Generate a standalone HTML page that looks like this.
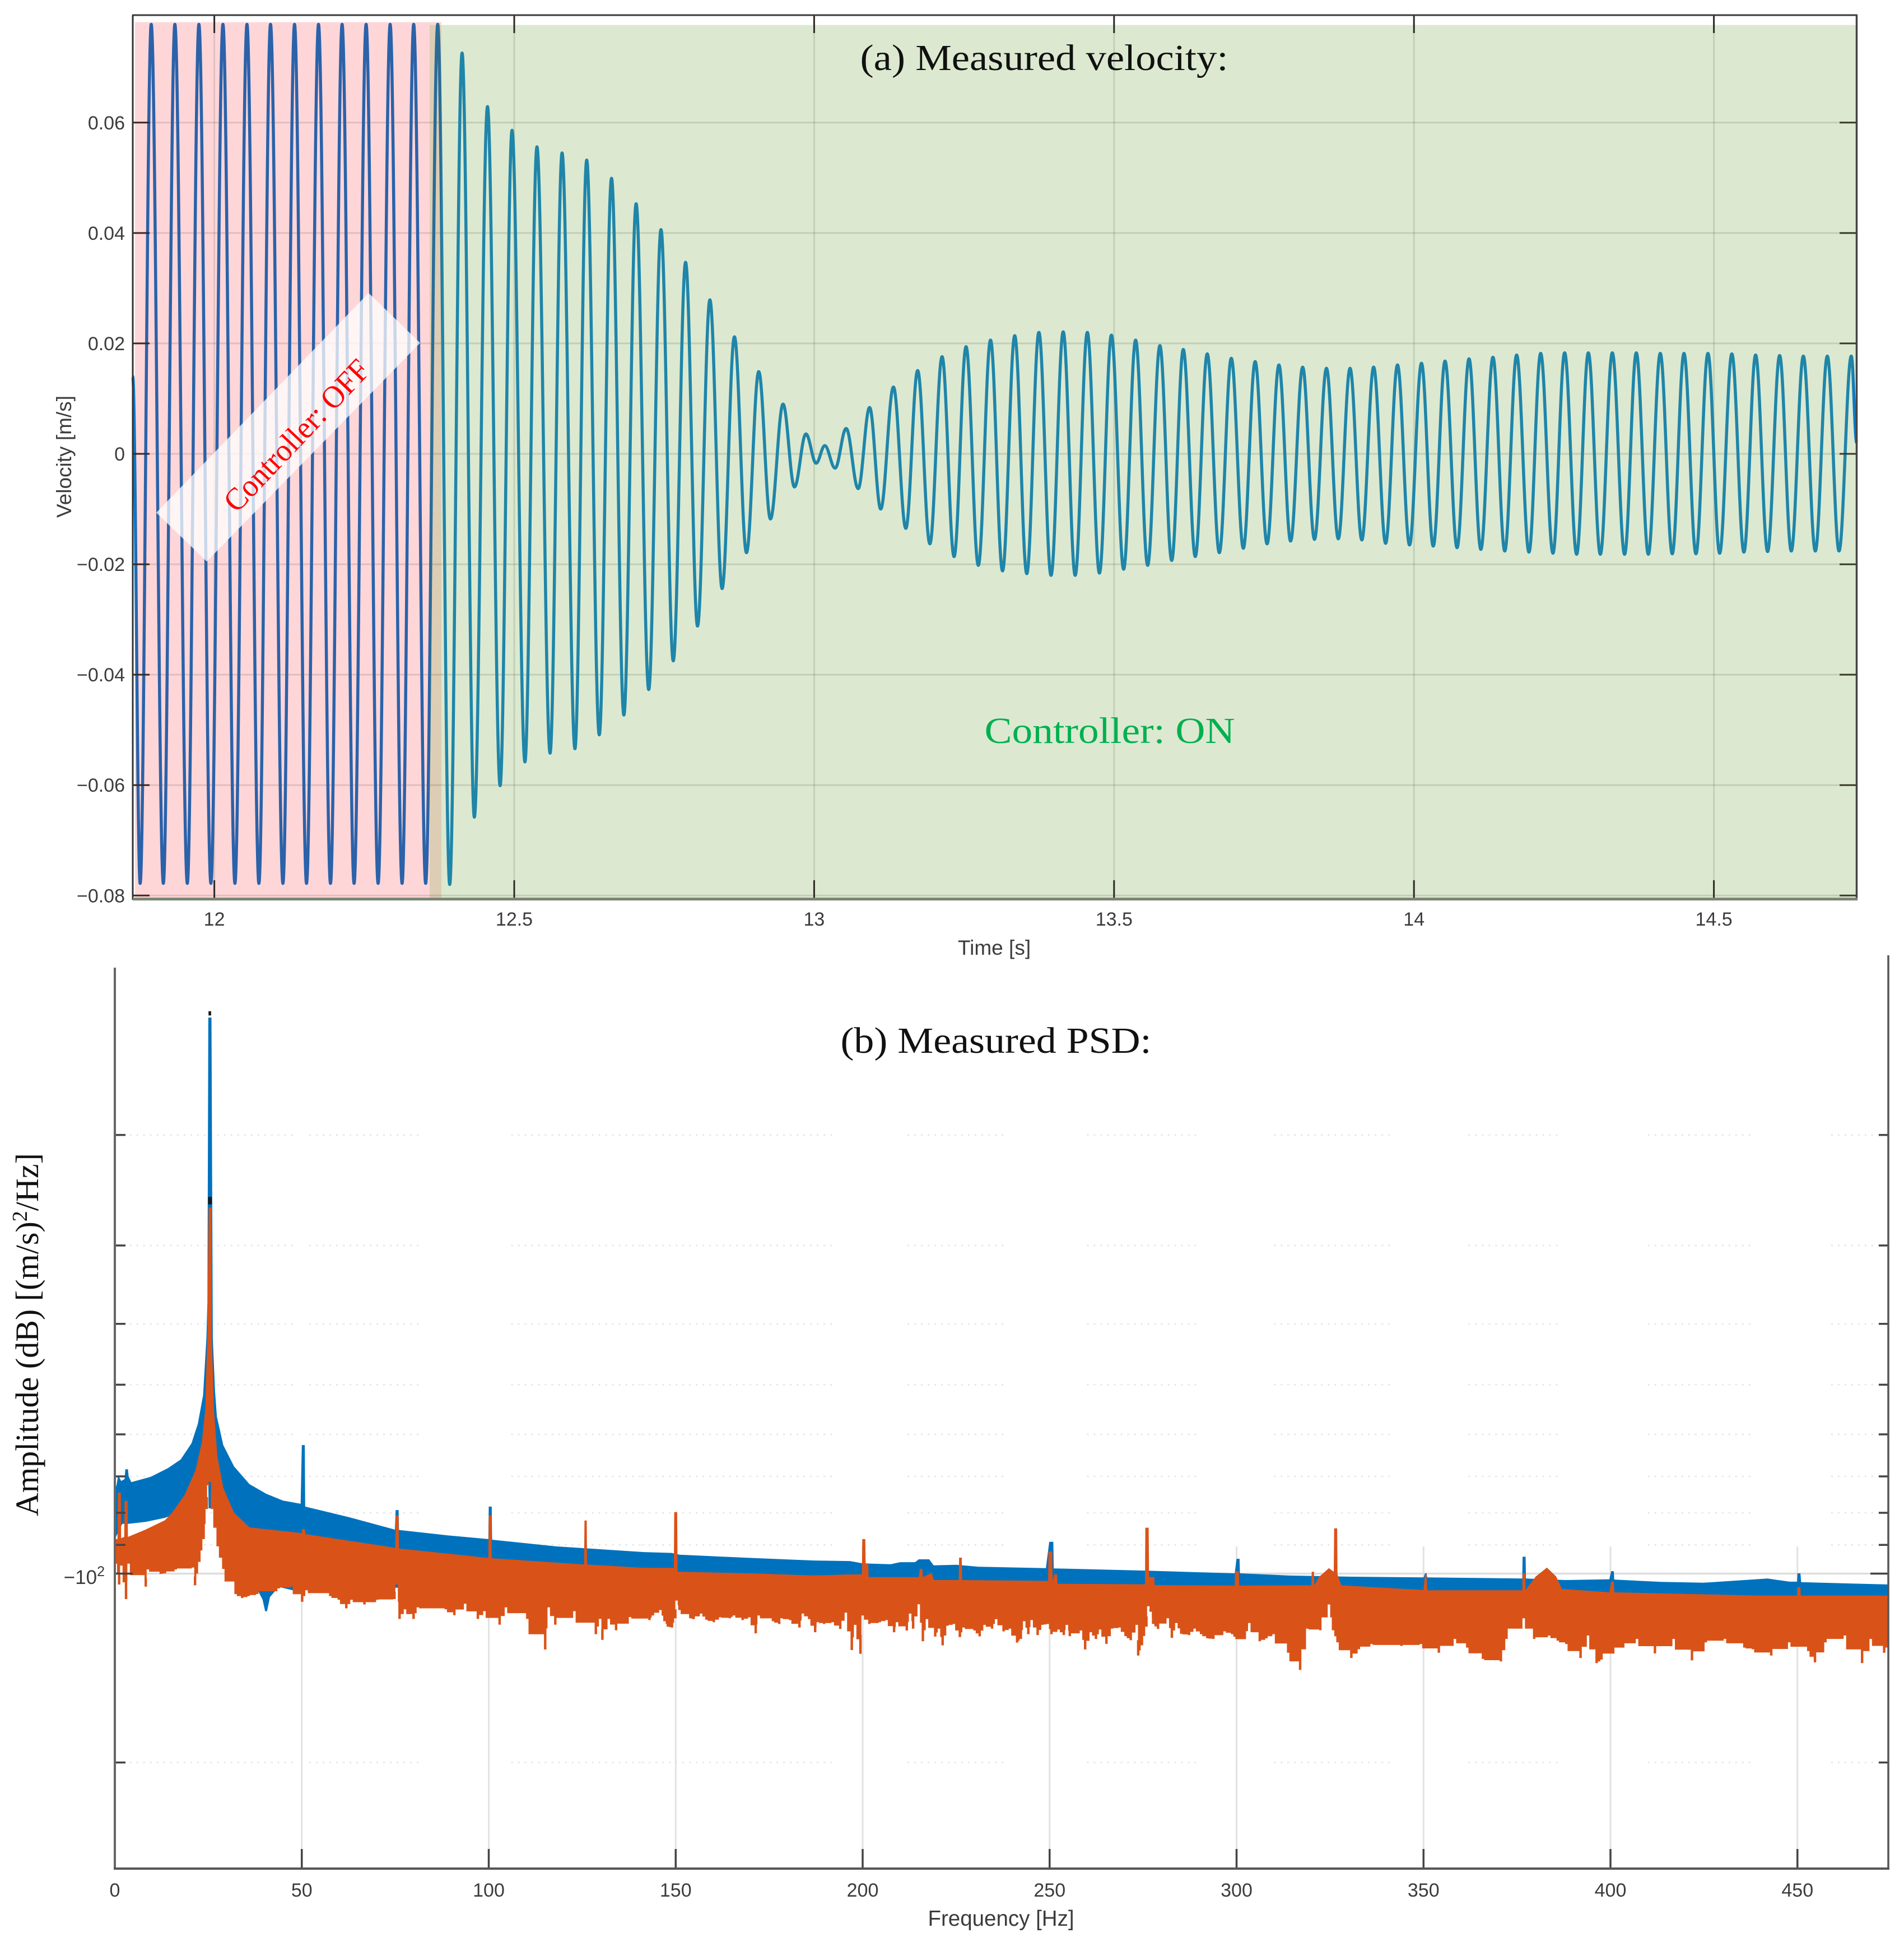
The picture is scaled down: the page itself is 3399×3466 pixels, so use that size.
<!DOCTYPE html>
<html lang="en">
<head>
<meta charset="utf-8">
<title>Measured velocity and PSD</title>
<style>
html,body{margin:0;padding:0;background:#fff;}
svg{display:block;}
.tick{font-family:"Liberation Sans",Arial,sans-serif;fill:#3c3c3c;}
.serif{font-family:"Liberation Serif",serif;}
</style>
</head>
<body>
<svg id="fig" xmlns="http://www.w3.org/2000/svg" width="3399" height="3466" viewBox="0 0 3399 3466">
  <rect x="0" y="0" width="3399" height="3466" fill="#ffffff"/>
  <defs>
    <clipPath id="clip-start"><rect x="230" y="27" width="13" height="1578"/></clipPath>
    <clipPath id="clip-off"><rect x="243" y="27" width="524" height="1578"/></clipPath>
    <clipPath id="clip-band"><rect x="767" y="27" width="21" height="1578"/></clipPath>
    <clipPath id="clip-on"><rect x="788" y="27" width="2520" height="1578"/></clipPath>
    <clipPath id="clip-end"><rect x="3308" y="27" width="10" height="1578"/></clipPath>
    <clipPath id="clip-psd"><rect x="205" y="1700" width="3166" height="1635"/></clipPath>
  </defs>

  <!-- Panel (a) background regions -->
  <g>
    <rect x="241" y="39.5" width="547" height="1565" fill="#ffd6d8"/>
    <rect x="767" y="44.6" width="2546" height="1560" fill="#dce9d0"/>
    <rect x="767" y="44.6" width="21" height="1560" fill="#dccdb4"/>
  </g>
  <g id="a-grid"></g>
  <g id="a-line"></g>
  <polygon points="658,523 750,612 369,1002 279,915" fill="#ffffff" fill-opacity="0.75"/>
  <g id="a-ticks"></g>
  <g>
    <line x1="236" y1="27" x2="3316" y2="27" stroke="#3a3a3a" stroke-width="3"/>
    <line x1="237" y1="27" x2="237" y2="1606" stroke="#333333" stroke-width="3"/>
    <line x1="3314.5" y1="27" x2="3314.5" y2="1606" stroke="#444444" stroke-width="3.5"/>
    <line x1="237" y1="1604.6" x2="3316" y2="1604.6" stroke="#7b8472" stroke-width="5"/>
  </g>
  <text class="serif" x="1864" y="125" font-size="66" text-anchor="middle" textLength="657" lengthAdjust="spacingAndGlyphs" fill="#111111">(a) Measured velocity:</text>
  <text class="serif" x="1981" y="1326" font-size="66" text-anchor="middle" textLength="447" lengthAdjust="spacingAndGlyphs" fill="#00b050">Controller: ON</text>
  <text class="serif" x="0" y="0" font-size="56" text-anchor="middle" textLength="350" lengthAdjust="spacingAndGlyphs" fill="#ff0000" transform="translate(543,790) rotate(-46.5)">Controller: OFF</text>
  <text class="tick" x="1775" y="1704" font-size="37" text-anchor="middle">Time [s]</text>
  <text class="tick" x="0" y="0" font-size="37" text-anchor="middle" transform="translate(127,815) rotate(-90)">Velocity [m/s]</text>

  <!-- Panel (b) -->
  <g id="b-grid"></g>
  <g id="b-series" clip-path="url(#clip-psd)"></g>
  <g id="b-ticks"></g>
  <g>
    <line x1="205" y1="1727" x2="205" y2="3337" stroke="#666666" stroke-width="4"/>
    <line x1="3371" y1="1705" x2="3371" y2="3337" stroke="#555555" stroke-width="3.5"/>
    <line x1="203" y1="3335" x2="3373" y2="3335" stroke="#555555" stroke-width="4"/>
  </g>
  <text class="serif" x="1778" y="1879" font-size="66" text-anchor="middle" textLength="555" lengthAdjust="spacingAndGlyphs" fill="#111111">(b) Measured PSD:</text>
  <text class="tick" x="1787" y="3437" font-size="38.5" text-anchor="middle">Frequency [Hz]</text>
  <text class="serif" x="0" y="0" font-size="58" text-anchor="middle" fill="#111111" textLength="648" lengthAdjust="spacingAndGlyphs" transform="translate(68,2382) rotate(-90)">Amplitude (dB) [(m/s)<tspan dy="-20" font-size="38">2</tspan><tspan dy="20">/Hz]</tspan></text>
  <text class="tick" x="187" y="2827" font-size="35" text-anchor="end">−10<tspan dy="-14" font-size="25">2</tspan></text>
</svg>

<script>
// ---------- Panel (a): velocity ----------
const velocityXLim = [11.864, 14.7381];
const velocityXTicks = [12, 12.5, 13, 13.5, 14, 14.5];
const velocityXLabels = ['12', '12.5', '13', '13.5', '14', '14.5'];
const velocityYTicks = [-0.08, -0.06, -0.04, -0.02, 0, 0.02, 0.04, 0.06];
const velocityYLabels = ['−0.08', '−0.06', '−0.04', '−0.02', '0', '0.02', '0.04', '0.06'];
const velocityStartTime = 11.864;
const velocityStartValue = 0.014;
const velocityEndTime = 14.7381;
const velocityEndValue = 0.002;
const peakTimes = [11.8948,11.9343,11.9743,12.0144,12.0544,12.0937,12.1337,12.1737,12.2130,12.2531,12.2931,12.3324,12.3724,
  12.4131,12.4555,12.4964,12.5379,12.5798,12.6208,12.6622,12.7032,12.7447,12.7857,12.8262,12.8671,12.9076,12.9482,12.9863,13.0177,13.0534,13.0925,
  13.1322,13.1726,13.2133,13.2533,13.2941,13.3344,13.3747,13.4152,13.4555,13.4956,13.5360,13.5764,
  13.6154,13.6554,13.6955,13.7352,13.7748,13.8144,13.8541,13.8934,13.9328,13.9725,14.0125,14.0518,14.0918,
  14.1317,14.1712,14.2112,14.2512,14.2907,14.3307,14.3707,14.4106,14.4501,14.4901,14.5300,14.5696,14.6096,14.6491,14.6891,14.7291];
const peakValues = [.0778,.0778,.0778,.0778,.0778,.0778,.0778,.0778,.0778,.0778,.0778,.0778,.0778,
  .0726,.0629,.0586,.0556,.0545,.0532,.0499,.0453,.0406,.0347,.0279,.0212,.0149,.0090,.0036,.0015,.0046,.0084,
  .0121,.0151,.0176,.0194,.0206,.0214,.0220,.0221,.0220,.0215,.0206,.0196,
  .0189,.0181,.0173,.0167,.0161,.0157,.0155,.0155,.0157,.0161,.0164,.0168,.0172,
  .0175,.0179,.0182,.0183,.0183,.0183,.0183,.0182,.0182,.0182,.0181,.0179,.0178,.0177,.0177,.0177];
const troughTimes = [11.8764,11.9150,11.9550,11.9943,12.0344,12.0743,12.1144,12.1537,12.1937,12.2330,12.2731,12.3130,12.3524,12.3924,
  12.4335,12.4765,12.5178,12.5598,12.6012,12.6418,12.6828,12.7242,12.7651,12.8056,12.8466,12.8872,12.9272,12.9672,13.0034,13.0349,13.0734,13.1110,
  13.1529,13.1929,13.2333,13.2737,13.3141,13.3545,13.3949,13.4352,13.4756,13.5160,13.5560,13.5961,
  13.6354,13.6755,13.7155,13.7551,13.7944,13.8341,13.8738,13.9131,13.9527,13.9926,14.0321,14.0718,14.1115,
  14.1514,14.1917,14.2317,14.2712,14.3107,14.3511,14.3907,14.4306,14.4701,14.5096,14.5501,14.5896,14.6291,14.6691,14.7086];
const troughValues = [-.0778,-.0778,-.0778,-.0778,-.0778,-.0778,-.0778,-.0778,-.0778,-.0778,-.0778,-.0778,-.0778,-.0780,
  -.0658,-.0601,-.0558,-.0542,-.0534,-.0509,-.0473,-.0427,-.0375,-.0312,-.0244,-.0179,-.0118,-.0060,-.0017,-.0026,-.0063,-.0100,
  -.0135,-.0163,-.0186,-.0202,-.0212,-.0217,-.0220,-.0220,-.0216,-.0209,-.0202,-.0193,
  -.0186,-.0179,-.0171,-.0163,-.0158,-.0155,-.0154,-.0156,-.0162,-.0165,-.0167,-.0170,-.0173,
  -.0176,-.0178,-.0180,-.0182,-.0182,-.0182,-.0182,-.0181,-.0181,-.0180,-.0178,-.0177,-.0176,-.0176,-.0176];

// ---------- Panel (b): PSD (magnitude of the dB value) ----------
const psdXTicks = [0, 50, 100, 150, 200, 250, 300, 350, 400, 450];
const psdXLabels = ['0', '50', '100', '150', '200', '250', '300', '350', '400', '450'];
const psdMinorYTicks = [20, 30, 40, 50, 60, 70, 80, 90, 200];
const psdMajorYTicks = [100];
const psdDotSpanStarts = [4, 52, 106, 141, 212, 260, 310, 362, 410, 459];
const psdDotSpanEnds = [48, 82, 142, 192, 239, 290, 341, 386, 438, 474];
const blueUpperFreq = [0,0.4,0.9,1.7,2.6,2.8,3.5,3.7,4.4,9.6,14.2,17.6,20.5,22.2,23.6,24.5,24.76,25.0,25.85,26.2,26.8,27.3,29,31.9,36,40.5,45,49.7,50,50.8,50.9,62.3,74.9,75.1,75.9,76,89,99.9,100,100.8,100.9,118,141.6,149,151,170,187,196.6,200,207.5,210,214,215,217.8,219,225,231,249,249.9,251,251.1,275.5,290,299.5,300,300.8,300.9,314,328.7,350,350.4,350.8,351,376.4,376.5,377.3,377.4,388,399.7,400.2,400.9,401,413.5,424.9,442,447.9,449.9,450,450.8,451,475];
const blueUpperMag = [72.5,72.5,69.7,71.2,70.7,68.2,68.2,70,71.5,70.1,67.9,65.8,62,57.7,52,42.1,36.9,13.0,13.0,42.1,51.2,56.2,62.4,67.5,72,74.6,76.5,77.4,62.4,62.4,78.2,81.2,85.1,79.2,79.2,85.2,86.9,88.1,78.2,78.2,88.3,90.5,92.4,92.7,93.3,94.4,95.3,95.5,96.3,96.6,95.9,95.9,94.9,94.9,97,96.8,97.5,98,89,89,98.1,98.9,99.5,99.9,94.7,94.7,99.9,100.7,101.1,101.4,99.9,99.9,101.4,101.8,94,94,101.8,102.4,102.1,99.1,99.1,102.2,103.1,103.4,101.8,103,103,99.9,99.9,103.2,104.1];
const blueLowerFreq = [0,2,3.7,8.3,13.4,17.4,24.9,25.1,25.7,25.9,30,34.6,38.1,39.5,40.2,40.7,41.5,43.8,49.5,51.8,475];
const blueLowerMag = [88.1,83.3,83.3,82.7,81.5,79.9,65,78.7,78.7,65,90,105,106,110,114.8,114.8,109,105,107,105,111];
const orangeUpperFreq = [0,0.7,0.8,1.6,1.7,2.5,2.6,3.4,3.5,8.2,13.4,15.3,18.7,21.6,23.3,24.2,24.7,25.1,25.9,25.95,26.5,27.4,29,31.9,36,50,50.1,50.8,51,72.5,75,75.1,75.9,76,99.9,100,100.7,100.8,125.5,125.6,126.2,126.3,141.6,149.5,149.6,150.4,150.5,170,187,196.6,199.8,199.9,200.7,200.8,201.5,201.6,215,215.3,216,216.1,218.5,219,225.7,225.8,226.5,226.6,249.6,249.7,250.7,250.8,251.2,252,252.1,275.5,275.6,276.5,276.6,278,278.1,299.5,299.6,300.6,300.7,320,320.1,320.7,320.8,322,324.7,326,326.1,326.9,327,328,350,350.4,350.8,351,376.4,376.5,377.2,377.3,380,383,385.5,387,399.7,400.2,400.9,401,440,449.9,450,450.8,450.9,475];
const orangeUpperMag = [88.1,88.1,74.3,74.3,87.8,87.4,76.6,76.6,87.4,85.1,82.2,80,74.9,68.4,61.6,54.7,42.1,26.1,26.1,42.1,54.7,64.9,73,80,84.4,86.2,84.9,84.9,86.5,90.5,91,80.8,80.8,91.2,94.4,80.8,80.8,94.5,96.7,82.3,82.3,96.7,97.9,97.9,79.8,79.8,99.3,99.9,100.7,100.3,100.3,88.1,88.1,96.3,96.3,101.3,101.3,98.3,98.3,101.3,99.7,102.4,102.4,94.3,94.3,102.4,102.7,92.2,92.2,102.8,100.3,100.3,103.8,104,84.5,84.5,101.3,101.3,104.3,104.5,99.1,99.1,104.5,104.4,99.3,99.3,104.5,101.3,98,99.3,84.7,84.7,100.3,104.4,106.2,100.3,100.3,106.3,106.3,99.9,99.9,106.2,101.1,97.8,101.1,105.8,107.1,103,103,107.1,108.4,108.4,105.1,105.1,108.4,108.4];
const orangeLowerFreq = [0.25,1.16,1.74,3.0,3.69,8.27,8.84,12.28,13.43,16.3,20.9,21.46,22.6,23.75,24.6,25,25.4,26,27.5,29,32.3,34.07,35.8,38.08,43.8,47.25,50.1,51.26,57.6,59.9,61.9,63.3,66.75,70.2,74.8,75.35,76.15,77.6,79.9,81.05,88.5,90.8,93.7,97.1,98.85,102.9,104.6,110.3,115.1,116.05,117.8,122.9,128.65,129.8,130.4,132.1,134.05,137.8,143,143.9,145.9,147,147.9,
  149,149.9,150.2,151,153.9,154.8,156.8,158.2,160.2,161.9,164.5,165.6,167.9,169.7,171.4,172.2,176,177.7,178.3,180.6,183.1,184,185.7,187.3,188,189.7,192,194,195.5,197.1,198,199.4,200,201.8,204.6,206.4,208.4,209.2,211.8,212.7,213.5,215,216.1,217.2,219.4,220.4,221.4,222.7,224.4,226,227,229.9,
  231.3,232.6,234.6,235.7,237.7,239.4,241.3,242.3,243.2,244.3,245.2,246.8,248.1,249.5,250.5,252.4,253.8,254.6,255.4,258.4,259.5,261,262.4,263.5,265.2,266.7,268.7,270.3,271.7,273.3,273.7,274.7,275.9,276.4,277,277.7,279,281.6,282.7,283.9,285.2,287.3,288.8,290.5,292.2,293.8,296.8,298.8,300,302.2,303.4,306.2,308,309.9,
  313.8,317,318.9,322.4,324.7,325.8,327,330.7,332.7,336.1,344.1,349.3,354.1,358.4,361.7,365.9,370.7,372.2,376.8,379.6,383.6,385.9,388.2,392,394,396.3,397.6,401.4,403.4,407.1,411.9,416.9,421.8,425.5,430.6,435.8,438.1,443,447.8,452.9,454.7,457.5,462.7,467.3,469.6,473.2,474.4];
const orangeLowerMag = [96.4,104.1,97.1,109.8,96.4,104.9,98.5,100.1,99.9,98.5,97.8,104.4,95.8,88.1,78.9,72.3,71.5,78.9,90.5,98.3,107.8,109.4,108.6,107.8,105.6,104.9,110.9,106.3,108.6,110.1,113.6,110.1,112,110.1,109.8,104.1,118.1,114,118.1,113.2,114,116.5,111.7,118.1,114.8,120.6,113.2,118.1,132.1,113.2,120.6,114.8,124.9,118.1,127.5,118.1,123.1,117.3,118.6,116.6,114.3,119.1,121.5,
  121.9,117.8,110.4,114.3,117.8,118.2,115.8,118.4,119.5,117.4,117.8,116.6,118.6,117.4,124.5,116.6,119.1,120.3,117.8,118.6,121.9,115.8,118.2,124,119.5,120.3,119.5,122.5,115.4,132.4,120.7,134.2,116.6,120.3,119.5,118.6,124,119.5,123.2,115.8,122.4,111.9,128.2,118.2,126,122.4,130.1,121.1,120.3,126.2,121.9,123.2,
  125.9,120.7,122.4,118.2,123.6,122.4,128.8,127.1,119.1,124.9,118.6,125.3,120.7,120.3,124.9,122.8,125.3,120.7,125.8,123.2,132.1,124,127.1,122.8,129.4,122.4,121.9,125.8,127.7,120.7,135.1,130.1,121.5,112.7,115,120.3,122.5,117.8,126.6,119.9,124.7,125.3,122.4,124.9,126.8,127.1,123.6,124.9,127.2,127.2,119.9,128.2,126.8,124.9,
  133.7,142.4,122.4,123.1,112,123.1,128.7,136.3,132,129.5,130.4,129.5,133.7,127.1,131.2,136.8,138,127.1,117.8,127.1,125.5,127.9,129.5,136.3,125.5,138.9,137.1,131.2,131.2,127.1,134,127.1,137.5,128.7,127.1,131.2,132,135.1,128.7,132.9,138.5,128.7,125.5,138.9,127.1,133.7,128.7];
const blueCapFreq = [25.05, 25.75];
const blueCapMag = [12.7, 12.9];
const orangeCapFreq = [24.95, 25.95];
const orangeCapMag = [25.1, 25.8];

// ---------- Axis functions ----------
function vx(t) { return 382.6 + (t - 12) * 1070.8; }
function vy(v) { return 810 - v * 9853.6; }
function fx(f) { return 205 + f * 6.675; }
function my(m) { return 2808.5 + 1120 * Math.log10(m / 100); }

const NS = 'http://www.w3.org/2000/svg';
function make(tag, parent, attrs) {
  const el = document.createElementNS(NS, tag);
  for (const k in attrs) el.setAttribute(k, attrs[k]);
  parent.appendChild(el);
  return el;
}

// ---------- Panel (a) draw ----------
const aGrid = document.getElementById('a-grid');
const aTicks = document.getElementById('a-ticks');
const aLine = document.getElementById('a-line');

velocityXTicks.forEach(function (t, i) {
  const g = make('line', aGrid, {x1: vx(t), x2: vx(t), y1: 40, y2: 1603, stroke: 'rgba(70,80,60,0.16)', 'stroke-width': 3});
  
  
  const t1 = make('line', aTicks, {x1: vx(t), x2: vx(t), y1: 27, y2: 59, stroke: '#2e2a26', 'stroke-width': 3});
  
  
  const t2 = make('line', aTicks, {x1: vx(t), x2: vx(t), y1: 1571, y2: 1604, stroke: '#2e2a26', 'stroke-width': 3});
  
  
  const lab = make('text', aTicks, {class: 'tick', x: vx(t), y: 1652, 'font-size': 34, 'text-anchor': 'middle'});
  lab.textContent = velocityXLabels[i];
  
  
});
velocityYTicks.forEach(function (v, i) {
  const g = make('line', aGrid, {x1: 241, x2: 3313, y1: vy(v), y2: vy(v), stroke: 'rgba(70,70,50,0.16)', 'stroke-width': 3});
  
  
  const t1 = make('line', aTicks, {x1: 237, x2: 267, y1: vy(v), y2: vy(v), stroke: '#3a2a26', 'stroke-width': 3});
  
  
  const t2 = make('line', aTicks, {x1: 3284, x2: 3314, y1: vy(v), y2: vy(v), stroke: '#3a3a2a', 'stroke-width': 3});
  
  
  const lab = make('text', aTicks, {class: 'tick', x: 223, y: vy(v) + 12, 'font-size': 34, 'text-anchor': 'end'});
  lab.textContent = velocityYLabels[i];
  
  
});

function velocityPath() {
  const pts = [[velocityStartTime, velocityStartValue]];
  const ext = [];
  peakTimes.forEach(function (t, i) { ext.push([t, peakValues[i]]); });
  troughTimes.forEach(function (t, i) { ext.push([t, troughValues[i]]); });
  ext.sort(function (a, b) { return a[0] - b[0]; });
  ext.forEach(function (p) { pts.push(p); });
  pts.push([velocityEndTime, velocityEndValue]);
  let d = 'M' + vx(pts[0][0]).toFixed(1) + ' ' + vy(pts[0][1]).toFixed(1);
  for (let i = 1; i < pts.length; i++) {
    const x0 = vx(pts[i - 1][0]), y0 = vy(pts[i - 1][1]);
    const x1 = vx(pts[i][0]), y1 = vy(pts[i][1]);
    const c = (x1 - x0) * 0.3642;
    d += 'C' + (x0 + c).toFixed(1) + ' ' + y0.toFixed(1) + ' ' + (x1 - c).toFixed(1) + ' ' + y1.toFixed(1) + ' ' + x1.toFixed(1) + ' ' + y1.toFixed(1);
  }
  return d;
}
const velocityD = velocityPath();
const velStart = make('path', aLine, {d: velocityD, fill: 'none', stroke: '#0b78c6', 'stroke-width': 5.5, 'clip-path': 'url(#clip-start)'});


const velOff = make('path', aLine, {d: velocityD, fill: 'none', stroke: '#2b62a9', 'stroke-width': 5.5, 'clip-path': 'url(#clip-off)'});


const velBand = make('path', aLine, {d: velocityD, fill: 'none', stroke: '#2a6c97', 'stroke-width': 5.5, 'clip-path': 'url(#clip-band)'});


const velOn = make('path', aLine, {d: velocityD, fill: 'none', stroke: '#1f85a9', 'stroke-width': 5.5, 'clip-path': 'url(#clip-on)'});


const velEnd = make('path', aLine, {d: velocityD, fill: 'none', stroke: '#0b78c6', 'stroke-width': 5.5, 'clip-path': 'url(#clip-end)'});



// ---------- Panel (b) draw ----------
const bGrid = document.getElementById('b-grid');
const bTicks = document.getElementById('b-ticks');
const bSeries = document.getElementById('b-series');

psdXTicks.forEach(function (f, i) {
  if (f > 0) {
    const g = make('line', bGrid, {x1: fx(f), x2: fx(f), y1: 2760, y2: 3335, stroke: '#e2e2e2', 'stroke-width': 3});
    
    
  }
  const t = make('line', bTicks, {x1: fx(f), x2: fx(f), y1: 3300, y2: 3335, stroke: '#444444', 'stroke-width': 3.5});
  
  
  const lab = make('text', bTicks, {class: 'tick', x: fx(f), y: 3385, 'font-size': 34, 'text-anchor': 'middle'});
  lab.textContent = psdXLabels[i];
  
  
});
psdMajorYTicks.forEach(function (m) {
  const g = make('line', bGrid, {x1: 205, x2: 3371, y1: my(m), y2: my(m), stroke: '#dddddd', 'stroke-width': 3.5});
  
  
  const t1 = make('line', bTicks, {x1: 205, x2: 237, y1: my(m), y2: my(m), stroke: '#444444', 'stroke-width': 3.5});
  
  
  const t2 = make('line', bTicks, {x1: 3339, x2: 3371, y1: my(m), y2: my(m), stroke: '#444444', 'stroke-width': 3.5});
  
  
});
psdMinorYTicks.forEach(function (m) {
  const t1 = make('line', bTicks, {x1: 205, x2: 224, y1: my(m), y2: my(m), stroke: '#444444', 'stroke-width': 3.5});
  
  
  const t2 = make('line', bTicks, {x1: 3354, x2: 3371, y1: my(m), y2: my(m), stroke: '#444444', 'stroke-width': 3.5});
  
  
  psdDotSpanStarts.forEach(function (s, i) {
    const e = psdDotSpanEnds[i];
    const g = make('line', bGrid, {x1: fx(s), x2: fx(e), y1: my(m), y2: my(m), stroke: '#e4e4e4', 'stroke-width': 2.5, 'stroke-dasharray': '3 9'});
    
    
  });
});

function envelope(freq, mag) {
  return freq.map(function (f, i) { return fx(f).toFixed(1) + ',' + my(mag[i]).toFixed(1); });
}
function skyline(freq, mag) {
  // Each reading becomes a narrow tooth; between readings the edge rests at their midpoint.
  const out = [];
  const hw = 2.2;
  for (let i = 0; i < freq.length; i++) {
    const x = fx(freq[i]), y = my(mag[i]);
    const prev = i > 0 ? (y + my(mag[i - 1])) / 2 : y;
    const next = i < freq.length - 1 ? (y + my(mag[i + 1])) / 2 : y;
    out.push((x - hw).toFixed(1) + ',' + prev.toFixed(1));
    out.push((x - hw).toFixed(1) + ',' + y.toFixed(1));
    out.push((x + hw).toFixed(1) + ',' + y.toFixed(1));
    out.push((x + hw).toFixed(1) + ',' + next.toFixed(1));
  }
  return out;
}
const bluePts = envelope(blueUpperFreq, blueUpperMag).concat(envelope(blueLowerFreq, blueLowerMag).reverse());
const blueArea = make('polygon', bSeries, {points: bluePts.join(' '), fill: '#0072bd'});


const orangePts = envelope(orangeUpperFreq, orangeUpperMag).concat(skyline(orangeLowerFreq, orangeLowerMag).reverse());
const orangeArea = make('polygon', bSeries, {points: orangePts.join(' '), fill: '#d95319'});



const blueCap = make('rect', bSeries, {x: fx(blueCapFreq[0]), width: fx(blueCapFreq[1]) - fx(blueCapFreq[0]), y: my(blueCapMag[0]), height: my(blueCapMag[1]) - my(blueCapMag[0]), fill: '#1a1a1a'});


const orangeCap = make('rect', bSeries, {x: fx(orangeCapFreq[0]), width: fx(orangeCapFreq[1]) - fx(orangeCapFreq[0]), y: my(orangeCapMag[0]), height: my(orangeCapMag[1]) - my(orangeCapMag[0]), fill: '#1a1a1a'});


</script>
</body>
</html>
